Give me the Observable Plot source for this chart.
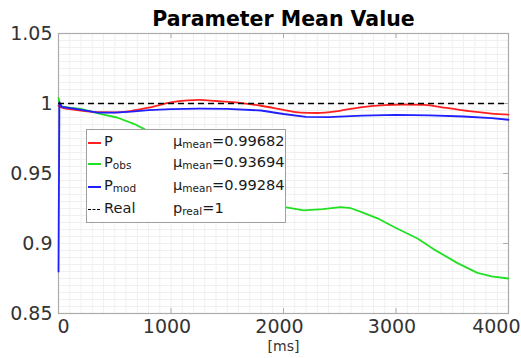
<!DOCTYPE html>
<html><head><meta charset="utf-8">
<script src="https://cdn.jsdelivr.net/npm/d3@7"></script>
<script src="https://cdn.jsdelivr.net/npm/@observablehq/plot@0.6"></script>
<style>
body{margin:0;background:#fff;}
#wrap{position:relative;width:521px;height:358px;font-family:"DejaVu Sans";}
#wrap svg{position:absolute;left:0;top:0;}
#legend{position:absolute;left:86px;top:129px;width:200px;height:94px;background:#fff;border:1px solid #a0a0a0;box-sizing:border-box;font-size:14.6px;color:#1a1a1a;}
.row{position:absolute;left:0;height:20px;line-height:20px;white-space:nowrap;}
.sample{position:absolute;left:1px;top:11px;width:13px;height:0;border-top:2px solid;}
.lab{position:absolute;left:17px;top:0;}
.val{position:absolute;left:86px;top:0;}
sub{font-size:0.72em;position:relative;top:0.2em;vertical-align:baseline;}
</style></head>
<body><div id="wrap"></div>
<script>
const title = "Parameter Mean Value";
const xLabel = "[ms]";
const xTicks = [0, 1000, 2000, 3000, 4000];
const yTicks = [0.85, 0.9, 0.95, 1, 1.05];

const tP = [0, 30, 150, 350, 500, 650, 800, 1000, 1150, 1250, 1400, 1550, 1800, 2000, 2150, 2300, 2500, 2700, 2900, 3050, 3250, 3450, 3650, 3850, 4000];
const vP = [0.9985, 0.997, 0.9955, 0.9938, 0.9937, 0.9948, 0.997, 1.0008, 1.0022, 1.0026, 1.0018, 1.001, 0.9984, 0.9955, 0.9935, 0.9932, 0.9948, 0.9974, 0.9989, 0.9993, 0.999, 0.9968, 0.9945, 0.9928, 0.992];

const tObs = [0, 15, 100, 200, 370, 520, 670, 780, 1000, 1250, 1500, 1750, 2000, 2180, 2350, 2507, 2600, 2700, 2836, 2978, 3191, 3333, 3547, 3724, 3850, 4000];
const vObs = [1.004, 0.998, 0.997, 0.9962, 0.9926, 0.990, 0.9855, 0.981, 0.972, 0.961, 0.949, 0.937, 0.9262, 0.9236, 0.9245, 0.926, 0.9252, 0.9222, 0.918, 0.912, 0.9036, 0.896, 0.886, 0.879, 0.8765, 0.875];

const tMod = [0, 8, 30, 150, 350, 500, 650, 800, 1000, 1250, 1500, 1800, 2000, 2200, 2400, 2700, 3000, 3300, 3600, 3850, 4000];
const vMod = [0.88, 1.001, 0.9975, 0.9962, 0.9935, 0.9935, 0.9942, 0.9952, 0.996, 0.9963, 0.9962, 0.995, 0.9925, 0.9905, 0.9902, 0.9913, 0.9919, 0.9915, 0.9907, 0.9895, 0.9884];

const pReal = 1;
const seriesNames = [["P", ""], ["P", "obs"], ["P", "mod"], ["Real", ""]];
const seriesColors = ["#ff2020", "#22e022", "#1f1fff", "#000000"];
const meanValues = ["0.99682", "0.93694", "0.99284"];

const toRows = (ts, vs) => ts.map((t, i) => ({t, v: vs[i]}));

const minorX = d3.range(0, 41).map(i => i * 100);
const minorY = d3.range(170, 211).map(i => i / 200);

const chart = Plot.plot({
  width: 521, height: 358,
  marginLeft: 58, marginRight: 13, marginTop: 33, marginBottom: 45,
  x: {domain: [0, 4000]},
  y: {domain: [0.85, 1.05]},
  style: {fontFamily: "DejaVu Sans", background: "white"},
  marks: [
    Plot.ruleX(minorX, {stroke: "#f0f0f0", strokeWidth: 1}),
    Plot.ruleY(minorY, {stroke: "#f0f0f0", strokeWidth: 1}),
    Plot.frame({stroke: "#acacac", strokeWidth: 1.2}),
    Plot.tickX(xTicks.slice(1, 4), {insetTop: 275, stroke: "#acacac"}),
    Plot.tickX(xTicks.slice(1, 4), {insetBottom: 275, stroke: "#acacac"}),
    Plot.tickY(yTicks.slice(1, 4), {insetLeft: 445, stroke: "#acacac"}),
    Plot.line(toRows(tObs, vObs), {x: "t", y: "v", stroke: seriesColors[1], strokeWidth: 1.8}),
    Plot.line(toRows(tP, vP), {x: "t", y: "v", stroke: seriesColors[0], strokeWidth: 1.8, curve: "monotone-x"}),
    Plot.line(toRows(tMod, vMod), {x: "t", y: "v", stroke: seriesColors[2], strokeWidth: 1.8}),
    Plot.ruleY([pReal], {stroke: "#000", strokeWidth: 1.5, strokeDasharray: "6,4"}),
    Plot.axisY({ticks: yTicks, tickSize: 0, tickPadding: 6, tickFormat: d => String(d), fontSize: 19, fill: "#333", label: null}),
    Plot.axisX({ticks: [0], tickSize: 0, tickPadding: 6, tickFormat: d => String(d), fontSize: 19, fill: "#333", label: null, dx: 5}),
    Plot.axisX({ticks: xTicks.slice(1, 4), tickSize: 0, tickPadding: 6, tickFormat: d => String(d), fontSize: 19, fill: "#333", label: null, dx: -4}),
    Plot.axisX({ticks: [4000], tickSize: 0, tickPadding: 6, tickFormat: d => String(d), fontSize: 19, fill: "#333", label: null, textAnchor: "end", dx: 12}),
    Plot.text([xLabel], {frameAnchor: "bottom", dy: 33, fontSize: 14, fill: "#333", lineAnchor: "middle"}),
    Plot.text([title], {frameAnchor: "top", dy: -14, fontSize: 20.5, fontWeight: "bold", fill: "#000", lineAnchor: "middle"})
  ]
});

const wrap = document.getElementById("wrap");
wrap.appendChild(chart);

const legend = document.createElement("div");
legend.id = "legend";
const rowTops = [1, 22, 45, 68];
seriesNames.forEach(([name, sub], i) => {
  const row = document.createElement("div");
  row.className = "row";
  row.style.top = rowTops[i] + "px";
  row.style.width = "198px";
  const s = document.createElement("div");
  s.className = "sample";
  s.style.borderTopColor = seriesColors[i];
  if (i === 3) { s.style.borderTopStyle = "dashed"; s.style.borderTopWidth = "1.5px"; s.style.width = "12px"; }
  row.appendChild(s);
  const lab = document.createElement("div");
  lab.className = "lab";
  lab.innerHTML = name + (sub ? "<sub>" + sub + "</sub>" : "");
  row.appendChild(lab);
  const val = document.createElement("div");
  val.className = "val";
  val.innerHTML = i < 3 ? "μ<sub>mean</sub>=" + meanValues[i] : "p<sub>real</sub>=" + pReal;
  row.appendChild(val);
  legend.appendChild(row);
});
wrap.appendChild(legend);
</script></body></html>
